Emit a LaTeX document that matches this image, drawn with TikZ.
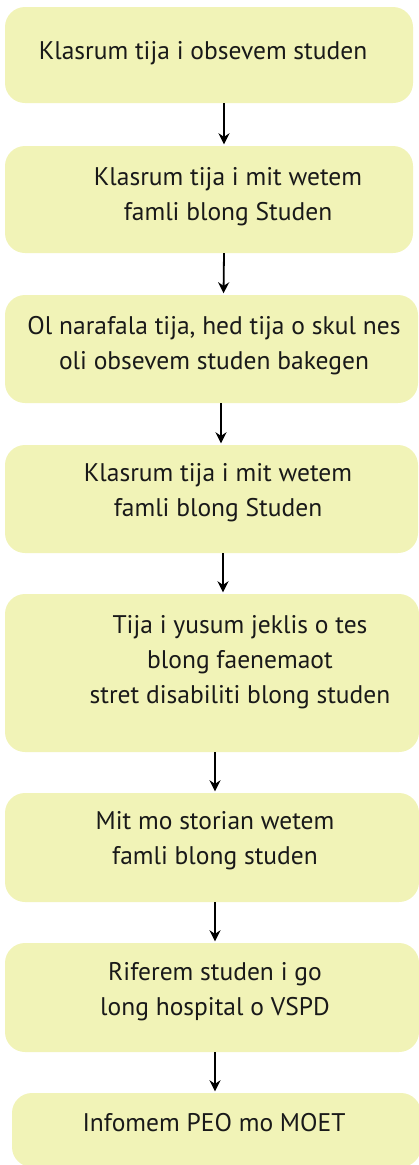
\documentclass[tikz,border=0pt]{standalone}
\usepackage{fontspec}
\setmainfont{PT Sans}
\usetikzlibrary{arrows.meta,positioning}
\definecolor{boxfill}{RGB}{241,243,183}
\tikzset
{
    stepbox/.style = {rectangle, rounded corners=20pt, fill=boxfill, draw=none, inner sep=0pt},
    steptext/.style = {align=center, font=\fontsize{25.5}{35}\selectfont, text=black!90},
    arrow/.style = {line width=1.8pt, ->, >={Stealth[length=11pt,width=11pt]}, shorten >=1.5pt}
}
\begin{document}
\begin{tikzpicture}[x=1pt, y=-1pt]
		\useasboundingbox (0,0) rectangle (419,1165);
		\node (b1)	[stepbox, minimum width=408pt, minimum height=96pt] 	at (209,55)   	{};
		\node (b2)	[stepbox, minimum width=408pt, minimum height=107pt] 	at (209,199.5) 	{};
		\node (b3)	[stepbox, minimum width=413pt, minimum height=108pt] 	at (211.5,349) 	{};
		\node (b4)	[stepbox, minimum width=413pt, minimum height=108pt] 	at (211.5,499) 	{};
		\node (b5)	[stepbox, minimum width=414pt, minimum height=158pt] 	at (212,673)   	{};
		\node (b6)	[stepbox, minimum width=414pt, minimum height=109pt] 	at (212,847.5) 	{};
		\node (b7)	[stepbox, minimum width=414pt, minimum height=109pt] 	at (212,997.5) 	{};
		\node (b8)	[stepbox, minimum width=409pt, minimum height=74pt] 	at (216.5,1130) 	{};
		\node (t1)	[steptext] 	at (203,53)   	{Klasrum tija i obsevem studen};
		\node (t2)	[steptext] 	at (228,197)  	{Klasrum tija i mit wetem \\ famli blong Studen};
		\node (t3)	[steptext] 	at (214,346)  	{Ol narafala tija, hed tija o skul nes \\ oli obsevem studen bakegen};
		\node (t4)	[steptext] 	at (218,493)  	{Klasrum tija i mit wetem \\ famli blong Studen};
		\node (t5)	[steptext] 	at (240,662)  	{Tija i yusum jeklis o tes \\ blong faenemaot \\ stret disabiliti blong studen};
		\node (t6)	[steptext] 	at (215,841)  	{Mit mo storian wetem \\ famli blong studen};
		\node (t7)	[steptext] 	at (215,992)  	{Riferem studen i go \\ long hospital o VSPD};
		\node (t8)	[steptext] 	at (214,1123) 	{Infomem PEO mo MOET};
		\draw[arrow] ([xshift=15pt]b1.south) -- ([xshift=15pt]b2.north);
		\draw[arrow] ([xshift=15pt]b2.south) -- ([xshift=12pt]b3.north);
		\draw[arrow] ([xshift=9.5pt]b3.south) -- ([xshift=9.5pt]b4.north);
		\draw[arrow] ([xshift=11.5pt]b4.south) -- ([xshift=11pt]b5.north);
		\draw[arrow] ([xshift=3pt]b5.south) -- ([xshift=3pt]b6.north);
		\draw[arrow] ([xshift=3pt]b6.south) -- ([xshift=3pt]b7.north);
		\draw[arrow] ([xshift=3pt]b7.south) -- ([xshift=-1.5pt]b8.north);
	\end{tikzpicture}
\end{document}
